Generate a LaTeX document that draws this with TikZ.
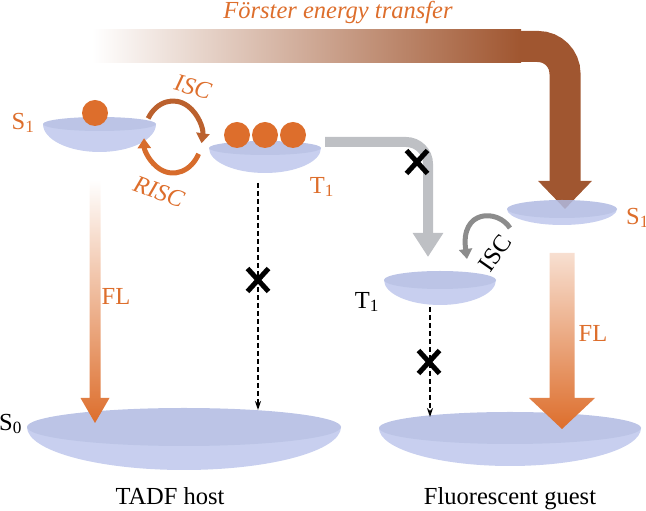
\documentclass[tikz,border=0pt]{standalone}
\usepackage{fontspec}
\setmainfont{Liberation Serif}
\usepackage{tikz}
\usetikzlibrary{arrows.meta,shapes.misc,calc}
\usepackage{xcolor}
\definecolor{TADFOrange}{RGB}{221,110,44}
\definecolor{FRETBrown}{RGB}{160,86,48}
\definecolor{LensTop}{RGB}{176,186,226}
\definecolor{LensBody}{RGB}{190,199,236}
\definecolor{BlockGray}{RGB}{190,192,196}
% vertical fat arrow with a shading: from, tip, half shaft, half head, head length, shading
\newcommand{\fatarrow}[6]{%
  \shade[#6] let \p1=(#1),\p2=(#2) in
    (\x1-#3,\y1) -- (\x1+#3,\y1) -- (\x1+#3,\y2+#5) -- (\x1+#4,\y2+#5)
    -- (\x2,\y2) -- (\x1-#4,\y2+#5) -- (\x1-#3,\y2+#5) -- cycle;}

\begin{document}
\begin{tikzpicture}[x=1pt,y=1pt,
  lbl/.style={font=\fontsize{24.5}{29}\selectfont,inner sep=0pt},
  ilbl/.style={font=\fontsize{24.5}{29}\selectfont\itshape,inner sep=0pt},
  ball/.style={circle,fill=TADFOrange,minimum size=26pt,inner sep=0pt},
  xmark/.style={cross out,draw=black,line width=5pt,minimum width=16pt,
                minimum height=18pt,inner sep=0pt},
  decay/.style={black,line width=1.3pt,dash pattern=on 5pt off 3pt,
                -{Stealth[length=9pt,width=6pt]}},
  cyc/.style={line width=5pt,-{Triangle[width=13pt,length=10pt]}},
]
\useasboundingbox (0,0) rectangle (646,511);

% Forster transfer --- host S1 to guest S1
\coordinate (fretA) at (520,464.5);
\coordinate (fretB) at (565,302);
\shade[left color=white,right color=FRETBrown] (92,448) rectangle (521,481);
\draw[line width=31pt,FRETBrown,rounded corners=27pt,
      -{Triangle[width=52pt,length=28pt]}] (fretA) -| (fretB);
\node[ilbl,text=TADFOrange,anchor=base] (fret) at (338,492) {Förster energy transfer};

% energy levels (lenses)
\foreach \nm/\cx/\cy/\rx/\rt/\rb in {hS1/99.5/387/56.5/7/28, hT1/265/363/56/7/25,
    gS1/562/302/55/9/16, gT1/440/231/56/9/25, hS0/184/84/157/19/43, gS0/510/83/131/16/38}{
  \coordinate (\nm) at (\cx,\cy);
  \begin{scope}[transparency group,opacity=.85]
    \fill[LensBody] (\cx-\rx,\cy) arc[start angle=180,end angle=360,x radius=\rx,y radius=\rb] -- cycle;
    \fill[LensTop] (\nm) ellipse[x radius=\rx,y radius=\rt];
  \end{scope}
}

% blocked Dexter path --- host T1 to guest T1
\coordinate (dexA) at (325,369);
\coordinate (dexB) at (428,254);
\draw[line width=10pt,BlockGray,rounded corners=22pt,
      -{Triangle[width=29pt,length=24pt]}] (dexA) -| (dexB);
\node[xmark] (x1) at (417,349) {};

% excitons
\node[ball] (e0) at (95,398) {};
\foreach \i/\x in {1/237,2/265,3/293}
  \node[ball] (e\i) at (\x,376) {};

% ISC / RISC cycle
\coordinate (cyc) at (173,374);
\draw[cyc,FRETBrown!55!TADFOrange] ([shift={(149:29 and 36)}]cyc)
  arc[start angle=149,end angle=-10,x radius=29,y radius=36];
\draw[cyc,TADFOrange!90!FRETBrown] ([shift={(-28:29 and 36)}]cyc)
  arc[start angle=-28,end angle=-178,x radius=29,y radius=36];
\node[ilbl,text=TADFOrange,rotate=-15] (hISC) at (193,424) {ISC};
\node[ilbl,text=TADFOrange,rotate=-20] (hRISC) at (159,319) {RISC};

% guest ISC
\coordinate (giscA) at (510,283);
\coordinate (giscB) at (467,252);
\draw[cyc,black!45] (giscA) .. controls (498,302) and (460,302) .. (giscB);
\node[lbl,rotate=55] (gISC) at (495,258) {ISC};

% fluorescence
\coordinate (hFLa) at (95,331);
\coordinate (hFLb) at (95,88);
\coordinate (gFLa) at (562,258);
\coordinate (gFLb) at (562,82);
\fatarrow{hFLa}{hFLb}{5.5pt}{14.5pt}{25pt}{top color=white,bottom color=TADFOrange}
\fatarrow{gFLa}{gFLb}{12.5pt}{33pt}{31pt}{top color=TADFOrange!22,bottom color=TADFOrange}
\node[lbl,text=TADFOrange] (hFL) at (116,215) {FL};
\node[lbl,text=TADFOrange] (gFL) at (593,178) {FL};

% non-radiative T1 decay (blocked)
\coordinate (hT1d) at (258,328);
\coordinate (hS0d) at (258,101);
\coordinate (gT1d) at (430,204);
\coordinate (gS0d) at (430,94);
\draw[decay] (hT1d) -- (hS0d);
\draw[decay] (gT1d) -- (gS0d);
\node[xmark] (x2) at (258,231) {};
\node[xmark] (x3) at (429,149) {};

% level labels
\node[lbl,text=TADFOrange] (hS1l) at (23,388) {S\textsubscript{1}};
\node[lbl,text=TADFOrange] (hT1l) at (322,324) {T\textsubscript{1}};
\node[lbl,anchor=west] (hS0l) at (-1,87) {S\textsubscript{0}};
\node[lbl,text=TADFOrange,anchor=west] (gS1l) at (626,293) {S\textsubscript{1}};
\node[lbl] (gT1l) at (367,209) {T\textsubscript{1}};
\node[lbl,anchor=base] (host) at (170,6) {TADF host};
\node[lbl,anchor=base] (guest) at (510,6) {Fluorescent guest};
\end{tikzpicture}
\end{document}
